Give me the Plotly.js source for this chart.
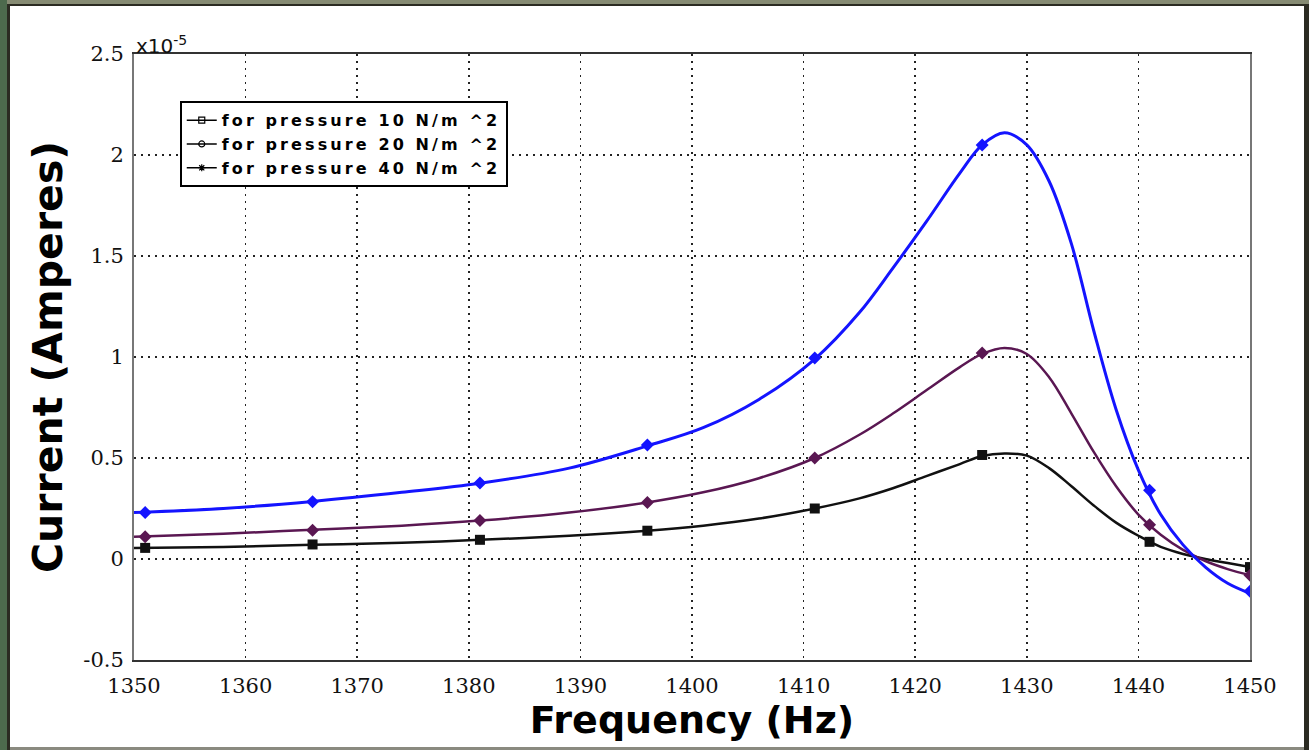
<!DOCTYPE html>
<html>
<head>
<meta charset="utf-8">
<script src="https://cdn.plot.ly/plotly-3.0.1.min.js"></script>
<style>
  html, body { margin: 0; padding: 0; width: 1309px; height: 750px; overflow: hidden; background: #2b2b22; }
  #topstrip { position: absolute; left: 0; top: 0; width: 1309px; height: 4px; background: #868b73; }
  #leftstrip { position: absolute; left: 0; top: 0; width: 7px; height: 750px; background: #4d6a4d; }
  #sheet { position: absolute; left: 10px; top: 6px; width: 1294px; height: 741px; background: #ffffff; }
  #botline { position: absolute; left: 10px; top: 747px; width: 1294px; height: 3px; background: #8a8a80; }
  #chart { position: absolute; left: 0; top: 0; width: 1309px; height: 750px; }
  .legendtext { letter-spacing: 3.1px; }
</style>
</head>
<body>
<div id="topstrip"></div>
<div id="leftstrip"></div>
<div id="sheet"></div>
<div id="botline"></div>
<div id="chart"></div>
<script>
const freq = [1350, 1358, 1366, 1374, 1381, 1389, 1396, 1401, 1406, 1411, 1415, 1418, 1421, 1424, 1426, 1428, 1430, 1432, 1434, 1436, 1438, 1440, 1442, 1444, 1446, 1448, 1450];
// Current in units of 1e-5 A
const current10 = [0.055, 0.06, 0.07, 0.08, 0.095, 0.115, 0.14, 0.165, 0.20, 0.25, 0.30, 0.35, 0.41, 0.47, 0.51, 0.522, 0.512, 0.45, 0.36, 0.265, 0.18, 0.115, 0.06, 0.025, 0.0, -0.02, -0.04];
const current20 = [0.11, 0.125, 0.145, 0.165, 0.19, 0.23, 0.28, 0.33, 0.40, 0.50, 0.615, 0.72, 0.835, 0.95, 1.015, 1.045, 1.015, 0.90, 0.72, 0.53, 0.36, 0.22, 0.12, 0.045, -0.01, -0.05, -0.08];
const current40 = [0.23, 0.25, 0.285, 0.33, 0.375, 0.45, 0.56, 0.65, 0.79, 0.99, 1.22, 1.44, 1.67, 1.91, 2.05, 2.11, 2.05, 1.87, 1.56, 1.13, 0.74, 0.44, 0.22, 0.07, -0.04, -0.12, -0.17];

// Marker positions
const markFreq = [1351, 1366, 1381, 1396, 1411, 1426, 1441, 1450];
const mark10 = [0.055, 0.072, 0.095, 0.14, 0.25, 0.515, 0.085, -0.04];
const mark20 = [0.11, 0.142, 0.19, 0.28, 0.50, 1.02, 0.17, -0.08];
const mark40 = [0.23, 0.284, 0.376, 0.564, 0.995, 2.05, 0.34, -0.16];

const legendNames = ['for pressure 10 N/m ^2', 'for pressure 20 N/m ^2', 'for pressure 40 N/m ^2'];
const xTicks = [1350, 1360, 1370, 1380, 1390, 1400, 1410, 1420, 1430, 1440, 1450];
const yTicks = [-0.5, 0, 0.5, 1, 1.5, 2, 2.5];
const yTickText = ['-0.5', '0', '0.5', '1', '1.5', '2', '2.5'];

const colors = ['#111111', '#5a1752', '#1414ff'];
const curves = [current10, current20, current40];
const marks = [mark10, mark20, mark40];
const symbols = ['square', 'diamond', 'diamond'];
const legendSymbols = ['square-open', 'circle-open', 'asterisk-open'];

const traces = [];
for (let i = 0; i < 3; i++) {
  traces.push({
    x: freq, y: curves[i], mode: 'lines', type: 'scatter', showlegend: false,
    line: { color: colors[i], width: i === 2 ? 3 : 2.5, shape: 'spline', smoothing: 1 },
    hoverinfo: 'skip'
  });
  traces.push({
    x: markFreq, y: marks[i], mode: 'markers', type: 'scatter', showlegend: false,
    marker: { color: colors[i], size: 10, symbol: symbols[i] }
  });
}
for (let i = 0; i < 3; i++) {
  traces.push({
    x: [null], y: [null], mode: 'lines+markers', type: 'scatter', name: legendNames[i],
    line: { color: '#000000', width: 1.5 },
    marker: { color: '#000000', size: 6, symbol: legendSymbols[i], line: { color: '#000000', width: 1.2 } }
  });
}

const layout = {
  width: 1309, height: 750,
  margin: { l: 134, r: 59, t: 54, b: 90 },
  paper_bgcolor: 'rgba(0,0,0,0)',
  plot_bgcolor: '#ffffff',
  showlegend: true,
  legend: {
    x: 0.041, y: 0.922, xanchor: 'left', yanchor: 'top',
    bgcolor: '#ffffff', bordercolor: '#000000', borderwidth: 2,
    font: { family: 'DejaVu Sans', size: 16, color: '#000000', weight: 'bold' },
    itemwidth: 30
  },
  xaxis: {
    range: [1350, 1450], tickvals: xTicks, ticktext: xTicks.map(String),
    showgrid: true, gridcolor: '#222222', griddash: '2px,5px', gridwidth: 1.5,
    zeroline: false, showline: true, mirror: true, linecolor: '#333333', linewidth: 2,
    ticks: '', ticklabelstandoff: 6,
    tickfont: { family: 'DejaVu Serif', size: 21, color: '#111111' },
    title: { text: 'Frequency (Hz)', font: { family: 'DejaVu Sans', size: 38, color: '#000000', weight: 'bold' }, standoff: 8 }
  },
  yaxis: {
    range: [-0.5, 2.5], tickvals: yTicks, ticktext: yTickText,
    showgrid: true, gridcolor: '#222222', griddash: '2px,5px', gridwidth: 1.5,
    zeroline: false, showline: true, mirror: true, linecolor: '#777777', linewidth: 2,
    ticks: '', ticklabelstandoff: 4,
    tickfont: { family: 'DejaVu Serif', size: 21, color: '#111111' },
    title: { text: 'Current (Amperes)', font: { family: 'DejaVu Sans', size: 41, color: '#000000', weight: 'bold' }, standoff: 8 }
  },
  annotations: [{
    xref: 'paper', yref: 'paper', x: 0, y: 1, xanchor: 'left', yanchor: 'bottom', showarrow: false,
    text: 'x10<sup>-5</sup>', font: { family: 'DejaVu Sans', size: 20, color: '#111111' }, xshift: 0, yshift: -6
  }]
};

Plotly.newPlot('chart', traces, layout, { displayModeBar: false, staticPlot: true });
</script>
</body>
</html>
